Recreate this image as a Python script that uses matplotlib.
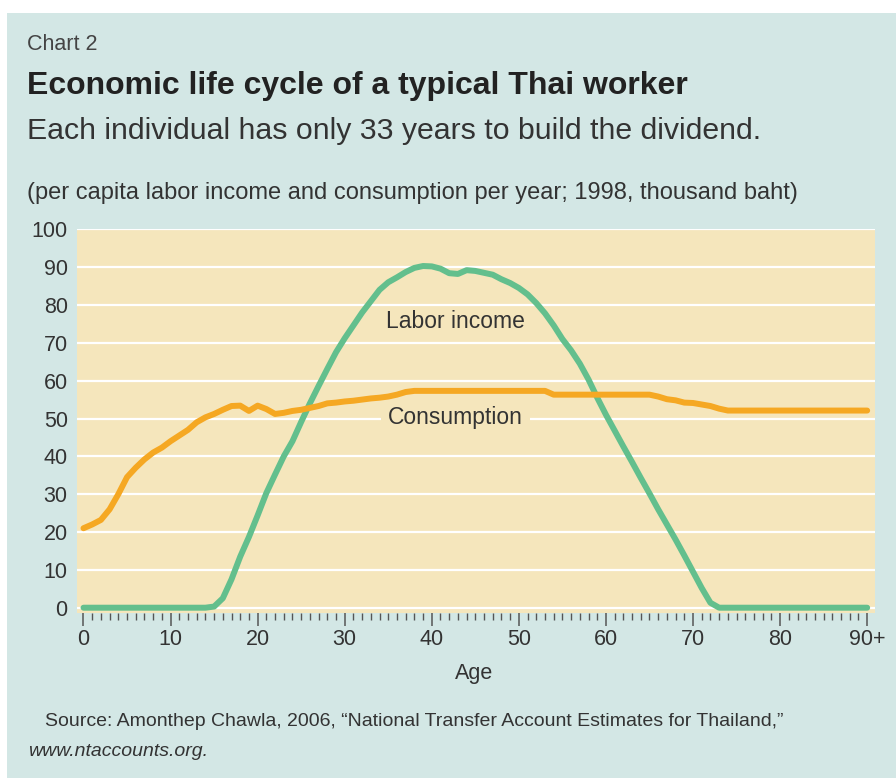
import numpy as np
import matplotlib
matplotlib.use('Agg')
import matplotlib.pyplot as plt
from matplotlib.ticker import MultipleLocator

plt.rcParams['font.family'] = ['Liberation Sans', 'DejaVu Sans']

# --- data (thousand baht per year) ---
ages = list(range(0, 91))
consumption = [21.0, 22.0, 23.2, 26.0, 30.0, 34.5, 37.0, 39.2, 41.0, 42.3,
               44.0, 45.5, 47.0, 49.0, 50.3, 51.2, 52.3, 53.3, 53.4, 52.0,
               53.4, 52.5, 51.2, 51.5, 52.0, 52.3, 52.8, 53.3, 54.0, 54.2,
               54.5, 54.7, 55.0, 55.3, 55.5, 55.8, 56.3, 57.0, 57.3, 57.3,
               57.3, 57.3, 57.3, 57.3, 57.3, 57.3, 57.3, 57.3, 57.3, 57.3,
               57.3, 57.3, 57.3, 57.3, 56.3, 56.3, 56.3, 56.3, 56.3, 56.3,
               56.3, 56.3, 56.3, 56.3, 56.3, 56.3, 55.8, 55.1, 54.8, 54.2,
               54.1, 53.7, 53.3, 52.6, 52.1, 52.1, 52.1, 52.1, 52.1, 52.1,
               52.1, 52.1, 52.1, 52.1, 52.1, 52.1, 52.1, 52.1, 52.1, 52.1,
               52.1]
labor_income = [0, 0, 0, 0, 0, 0, 0, 0, 0, 0,
                0, 0, 0, 0, 0, 0.3, 2.5, 7.5, 13.5, 18.7,
                24.4, 30.3, 35.2, 40.0, 44.0, 49.1, 54.0, 58.6, 63.1, 67.5,
                71.2, 74.6, 78.0, 81.0, 84.0, 86.0, 87.3, 88.7, 89.8, 90.3,
                90.2, 89.6, 88.4, 88.2, 89.2, 89.0, 88.5, 88.0, 86.8, 85.8,
                84.5, 82.8, 80.5, 77.8, 74.6, 71.0, 68.0, 64.5, 60.3, 55.5,
                51.0, 46.8, 42.6, 38.5, 34.3, 30.2, 26.0, 22.0, 18.0, 13.8,
                9.5, 5.2, 1.3, 0, 0, 0, 0, 0, 0, 0,
                0, 0, 0, 0, 0, 0, 0, 0, 0, 0,
                0]
x_ticks = list(range(0, 91, 10))
x_tick_labels = ['0', '10', '20', '30', '40', '50', '60', '70', '80', '90+']

panel_color = '#d3e7e5'
cream = '#f5e6bc'
orange = '#f5a823'
green = '#63bf8d'
text_color = '#333333'

fig = plt.figure(figsize=(8.96, 7.78), dpi=100)
fig.patch.set_facecolor(panel_color)
# thin white margins at top and left, like the scanned page
fig.patches.append(plt.Rectangle((0, 1 - 13 / 778), 1, 13 / 778, transform=fig.transFigure,
                                 facecolor='white', edgecolor='none'))
fig.patches.append(plt.Rectangle((0, 0), 7 / 896, 1, transform=fig.transFigure,
                                 facecolor='white', edgecolor='none'))

ax = fig.add_axes([76.7 / 896, 1 - 613 / 778, (875 - 76.7) / 896, (613 - 229.3) / 778])
ax.set_facecolor(cream)
ax.set_xlim(-0.78, 90.9)
ax.set_ylim(-1.4, 100)

ax.plot(ages, labor_income, color=green, lw=4.3, solid_capstyle='round', zorder=3)
ax.plot(ages, consumption, color=orange, lw=4.3, solid_capstyle='round', zorder=3)

ax.set_yticks(range(0, 101, 10))
ax.grid(axis='y', color='white', lw=1.6, zorder=1)
ax.set_axisbelow(True)
for s in ax.spines.values():
    s.set_visible(False)

ax.set_xticks(x_ticks)
ax.set_xticklabels(x_tick_labels)
ax.xaxis.set_minor_locator(MultipleLocator(1))
ax.tick_params(axis='x', which='major', length=9.5, width=1.1, color='#555555',
               labelsize=15.5, labelcolor=text_color, pad=2)
ax.tick_params(axis='x', which='minor', length=5, width=1.0, color='#555555')
ax.tick_params(axis='y', length=0, labelsize=15.5, labelcolor=text_color, pad=6.5)

ax.text(42.7, 75.6, 'Labor income', ha='center', va='center', fontsize=16.5,
        color=text_color, zorder=4)
# label box hides the gridline but stays under the curves
ax.text(42.7, 50.2, 'Consumption', ha='center', va='center', fontsize=16.5,
        color=text_color, zorder=2,
        bbox=dict(boxstyle='square,pad=0.3', fc=cream, ec='none'))

fig.text(474 / 896, 1 - 673 / 778, 'Age', ha='center', va='center',
         fontsize=15.5, color=text_color)

fig.text(27 / 896, 1 - 45 / 778, 'Chart 2', ha='left', va='center',
         fontsize=15.5, color='#444444')
fig.text(27 / 896, 1 - 86 / 778, 'Economic life cycle of a typical Thai worker',
         ha='left', va='center', fontsize=23, fontweight='bold', color='#222222')
fig.text(27 / 896, 1 - 131 / 778, 'Each individual has only 33 years to build the dividend.',
         ha='left', va='center', fontsize=21.8, color=text_color)
fig.text(27 / 896, 1 - 193 / 778,
         '(per capita labor income and consumption per year; 1998, thousand baht)',
         ha='left', va='center', fontsize=17, color=text_color)
fig.text(45 / 896, 1 - 722 / 778,
         'Source: Amonthep Chawla, 2006, \u201cNational Transfer Account Estimates for Thailand,\u201d',
         ha='left', va='center', fontsize=14, color=text_color)
fig.text(28 / 896, 1 - 752 / 778, 'www.ntaccounts.org.', ha='left', va='center',
         fontsize=14, style='italic', color=text_color)

fig.savefig('out.png', dpi=100, facecolor=fig.get_facecolor())
